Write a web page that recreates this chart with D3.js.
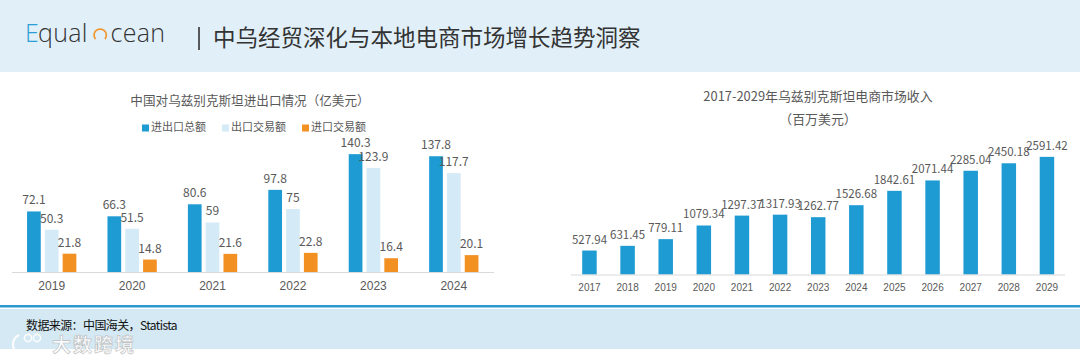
<!DOCTYPE html>
<html>
<head>
<meta charset="utf-8">
<script src="https://cdn.jsdelivr.net/npm/d3@7"></script>
<style>
  body { margin: 0; background: #fff; }
  svg { display: block; font-family: "Noto Sans CJK SC", "Noto Sans", sans-serif; }
</style>
</head>
<body>
<script>
// left chart data (亿美元)
var tradeYears = ["2019", "2020", "2021", "2022", "2023", "2024"];
var tradeSeries = ["进出口总额", "出口交易额", "进口交易额"];
var totalTrade = [72.1, 66.3, 80.6, 97.8, 140.3, 137.8];
var exportTrade = [50.3, 51.5, 59, 75, 123.9, 117.7];
var importTrade = [21.8, 14.8, 21.6, 22.8, 16.4, 20.1];

// right chart data (百万美元)
var ecomYears = ["2017", "2018", "2019", "2020", "2021", "2022", "2023", "2024", "2025", "2026", "2027", "2028", "2029"];
var ecomRevenue = [527.94, 631.45, 779.11, 1079.34, 1297.37, 1317.93, 1262.77, 1526.68, 1842.61, 2071.44, 2285.04, 2450.18, 2591.42];

var colors = ["#1f9bd4", "#d4eaf6", "#f39022"];
var labelColor = "#595959";

var W = 1080, H = 362;
var svg = d3.select("body").append("svg").attr("width", W).attr("height", H);

// header band
svg.append("rect").attr("x", 0).attr("y", 0).attr("width", W).attr("height", 72).attr("fill", "#e1eff8");

var logo = svg.append("g").attr("class", "logo");
logo.append("text").attr("x", 25).attr("y", 42).attr("font-family", "Open Sans").attr("font-weight", 300)
  .attr("font-size", 25).attr("fill", "#2a9fd6").text("E");
logo.append("text").attr("x", 38).attr("y", 42).attr("font-family", "Open Sans").attr("font-weight", 300)
  .attr("font-size", 25).attr("fill", "#333").attr("letter-spacing", 0.3).text("qual");
// the orange "O" is an arc open at the bottom
logo.append("path")
  .attr("d", d3.arc()({innerRadius: 5.3, outerRadius: 7, startAngle: -Math.PI * 0.72, endAngle: Math.PI * 0.72}))
  .attr("transform", "translate(100.2,35.2)")
  .attr("fill", "#f0962e");
logo.append("text").attr("x", 110.5).attr("y", 42).attr("font-family", "Open Sans").attr("font-weight", 300)
  .attr("font-size", 25).attr("fill", "#333").attr("letter-spacing", 0.3).text("cean");

svg.append("line").attr("x1", 199).attr("x2", 199).attr("y1", 27).attr("y2", 50)
  .attr("stroke", "#333").attr("stroke-width", 1.6);
svg.append("text").attr("x", 213).attr("y", 38).attr("dy", "0.36em")
  .attr("font-size", 22.5).attr("fill", "#333").text("中乌经贸深化与本地电商市场增长趋势洞察");

// ---------- left chart ----------
var x0 = d3.scaleBand().domain(tradeYears).range([11.5, 494]).paddingInner(0.387).paddingOuter(0.1935);
var x1 = d3.scaleBand().domain(tradeSeries).range([0, x0.bandwidth()]).paddingInner(0.23);
var yL = d3.scaleLinear().domain([0, 160]).range([272, 137.6]);

var tradeRows = tradeYears.map(function(y, i) {
  return {year: y, values: [totalTrade[i], exportTrade[i], importTrade[i]]};
});

svg.append("text").attr("x", 250).attr("y", 100.5).attr("dy", "0.36em").attr("text-anchor", "middle")
  .attr("font-size", 12.6).attr("fill", labelColor).text("中国对乌兹别克斯坦进出口情况（亿美元）");

var legend = svg.append("g").attr("class", "legend");
var lx = 142;
tradeSeries.forEach(function(s, i) {
  legend.append("rect").attr("x", lx).attr("y", 124.5).attr("width", 7).attr("height", 7).attr("fill", colors[i]);
  var t = legend.append("text").attr("x", lx + 9).attr("y", 127.5).attr("dy", "0.36em")
    .attr("font-size", 11).attr("fill", labelColor).text(s);
  lx = lx + 9 + t.node().getComputedTextLength() + 16;
});

var groups = svg.selectAll(".grp").data(tradeRows).enter().append("g")
  .attr("class", "grp")
  .attr("transform", function(d) { return "translate(" + x0(d.year) + ",0)"; });

groups.selectAll("rect").data(function(d) {
    return d.values.map(function(v, i) { return {key: tradeSeries[i], value: v, idx: i}; });
  }).enter().append("rect")
  .attr("x", function(d) { return x1(d.key); })
  .attr("y", function(d) { return yL(d.value); })
  .attr("width", x1.bandwidth())
  .attr("height", function(d) { return yL(0) - yL(d.value); })
  .attr("fill", function(d) { return colors[d.idx]; });

groups.selectAll("text").data(function(d) {
    return d.values.map(function(v, i) { return {key: tradeSeries[i], value: v}; });
  }).enter().append("text")
  .attr("x", function(d) { return x1(d.key) + x1.bandwidth() / 2; })
  .attr("y", function(d) { return yL(d.value) - 7; })
  .attr("text-anchor", "middle")
  .attr("font-size", 12).attr("fill", labelColor)
  .text(function(d) { return d.value; });

var axL = svg.append("g").attr("transform", "translate(0,272)")
  .call(d3.axisBottom(x0).tickSize(0).tickPadding(9));
axL.select(".domain").attr("stroke", "#d9d9d9").attr("d", "M12,0.5H494");
axL.selectAll("text").attr("font-size", 12).attr("fill", labelColor).attr("font-family", null);

// ---------- right chart ----------
var xR = d3.scaleBand().domain(ecomYears).range([570.4, 1066]).paddingInner(0.62).paddingOuter(0.31);
var yR = d3.scaleLinear().domain([0, 3000]).range([274.5, 138.3]);

svg.append("text").attr("x", 818).attr("y", 96.5).attr("dy", "0.36em").attr("text-anchor", "middle")
  .attr("font-size", 12.9).attr("fill", labelColor).text("2017-2029年乌兹别克斯坦电商市场收入");
svg.append("text").attr("x", 818).attr("y", 119.5).attr("dy", "0.36em").attr("text-anchor", "middle")
  .attr("font-size", 12.9).attr("fill", labelColor).text("（百万美元）");

var ecom = ecomYears.map(function(y, i) { return {year: y, value: ecomRevenue[i]}; });

svg.selectAll(".ebar").data(ecom).enter().append("rect")
  .attr("class", "ebar")
  .attr("x", function(d) { return xR(d.year); })
  .attr("y", function(d) { return yR(d.value); })
  .attr("width", xR.bandwidth())
  .attr("height", function(d) { return yR(0) - yR(d.value); })
  .attr("fill", colors[0]);

svg.selectAll(".elab").data(ecom).enter().append("text")
  .attr("class", "elab")
  .attr("x", function(d) { return xR(d.year) + xR.bandwidth() / 2; })
  .attr("y", function(d) { return yR(d.value) - 7; })
  .attr("text-anchor", "middle")
  .attr("font-size", 11.5).attr("fill", labelColor)
  .text(function(d) { return d3.format(".2f")(d.value); });

var axR = svg.append("g").attr("transform", "translate(0,274.5)")
  .call(d3.axisBottom(xR).tickSize(0).tickPadding(9));
axR.select(".domain").attr("stroke", "#d9d9d9").attr("d", "M571,0.5H1065");
axR.selectAll("text").attr("font-size", 10).attr("fill", labelColor).attr("font-family", null);

// ---------- footer ----------
svg.append("rect").attr("x", 0).attr("y", 305).attr("width", W).attr("height", 2.5).attr("fill", "#2d98cd");
svg.append("rect").attr("x", 0).attr("y", 309).attr("width", W).attr("height", 40).attr("fill", "#d4e9f4");
svg.append("text").attr("x", 26).attr("y", 326).attr("dy", "0.36em")
  .attr("font-size", 12).attr("fill", "#111").attr("letter-spacing", -0.6).text("数据来源：中国海关，Statista");

// watermark
var wm = svg.append("g").attr("opacity", 0.9);
wm.append("path").attr("d", "M19,335 C11,339 11,350 19,354").attr("fill", "none")
  .attr("stroke", "#fff").attr("stroke-width", 2.2);
wm.append("circle").attr("cx", 28).attr("cy", 338).attr("r", 3.6).attr("fill", "none").attr("stroke", "#fff").attr("stroke-width", 1.6);
wm.append("circle").attr("cx", 37).attr("cy", 338).attr("r", 3.6).attr("fill", "none").attr("stroke", "#fff").attr("stroke-width", 1.6);
wm.append("text").attr("x", 52).attr("y", 345.5).attr("dy", "0.36em")
  .attr("font-size", 19).attr("font-weight", 700).attr("fill", "#fff")
  .attr("stroke", "#bdbdbd").attr("stroke-width", 0.7).attr("letter-spacing", 2).text("大数跨境");
</script>
</body>
</html>
